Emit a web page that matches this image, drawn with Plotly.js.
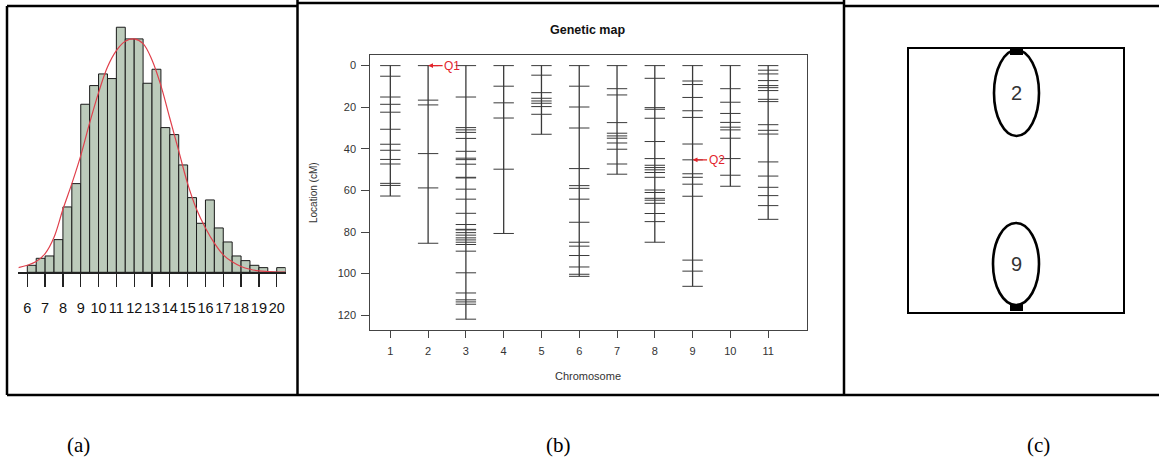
<!DOCTYPE html>
<html>
<head>
<meta charset="utf-8">
<script src="https://cdn.plot.ly/plotly-3.0.1.min.js"></script>
<style>html,body{margin:0;padding:0;background:#fff;}#chart{width:1159px;height:460px;}</style>
</head>
<body>
<div id="chart"></div>
<script>
// ---------- Panel (a): histogram ----------
const binLeft = [6.0,6.5,7.0,7.5,8.0,8.5,9.0,9.5,10.0,10.5,11.0,11.5,12.0,12.5,13.0,13.5,14.0,14.5,15.0,15.5,16.0,16.5,17.0,17.5,18.0,18.5,19.0,19.5,20.0];
const binCount = [3,6,7,14,28,38,72,80,85,83,105,100,100,81,87,62,59,46,32,21,31,19,13,7,5,3,2,0,2];
const histTicks = [6,7,8,9,10,11,12,13,14,15,16,17,18,19,20];
const curveX = [5.5,6.0,6.5,7.0,7.5,8.0,8.5,9.0,9.5,10.0,10.5,11.0,11.5,12.0,12.5,13.0,13.5,14.0,14.5,15.0,15.5,16.0,16.5,17.0,17.5,18.0,18.5,19.0,19.5,20.0,20.5];
const curveY = [2.0,3.0,4.6,8.0,15,27,38,50,64,77,88,95,99,100,98,91,80,66,52,38,27,19,12.5,7.5,4.5,2.5,1.3,0.6,0.3,0.1,0.05];

// ---------- Panel (b): genetic map ----------
const chromosomeLabels = [1,2,3,4,5,6,7,8,9,10,11];
const chr1 = [0,5.1,15.1,18.6,22.4,30.6,37.8,40.7,45.1,47.3,56.6,57.6,62.7];
const chr2 = [0,16.6,18.9,42.3,58.8,85.4];
const chr3 = [0,15.1,29.8,30.9,32.1,35.0,41.2,44.5,45.2,47.4,53.7,54.0,59.4,64.2,71.0,76.4,78.7,79.0,80.3,81.5,82.8,83.8,84.9,86.0,89.2,99.6,109.3,112.6,113.6,114.7,121.9];
const chr4 = [0,9.9,17.9,25.2,49.8,80.7];
const chr5 = [0,4.6,13.0,15.7,17.0,18.1,19.7,23.4,33.0];
const chr6 = [0,9.9,19.9,30.0,49.5,57.7,59.0,64.2,75.3,84.9,86.8,91.3,96.8,100.3,101.3];
const chr7 = [0,11.1,14.1,27.4,32.5,33.8,34.9,37.2,40.2,47.3,52.2];
const chr8 = [0,6.1,20.2,21.0,25.3,36.5,44.7,47.9,49.0,50.1,51.4,53.7,59.8,61.0,63.8,64.7,66.2,71.1,75.0,84.9];
const chr9 = [0,7.4,9.1,15.3,21.7,24.9,37.7,45.3,52.0,53.7,57.0,62.8,93.5,98.8,106.1];
const chr10 = [0,11.1,17.6,23.0,27.3,29.6,30.9,34.9,44.7,52.7,58.0];
const chr11 = [0,2.2,4.0,7.2,9.6,10.6,12.0,16.2,17.3,28.4,31.1,32.9,46.3,53.1,58.5,62.5,67.3,73.9];
const locationTicks = [0,20,40,60,80,100,120];
const qtlNames = ['Q1','Q2'];
const qtlChrom = [2,9];
const qtlPos = [0,45.3];

// ---------- Panel labels ----------
const panelLabels = ['(a)','(b)','(c)'];

const W = 1159, H = 460;
const px = v => v / W;
const py = v => 1 - v / H;

const chromosomes = [chr1,chr2,chr3,chr4,chr5,chr6,chr7,chr8,chr9,chr10,chr11];
const half = 0.27;
const vx = [], vy = [], hx = [], hy = [];
chromosomes.forEach((m, i) => {
  const c = chromosomeLabels[i];
  vx.push(c, c, null); vy.push(Math.min(...m), Math.max(...m), null);
  m.forEach(p => { hx.push(c - half, c + half, null); hy.push(p, p, null); });
});

const traces = [
  {type:'bar', x: binLeft, y: binCount, offset: 0, width: 0.5, xaxis:'x', yaxis:'y',
   marker:{color:'#bccbbb', line:{color:'#1a1a1a', width:1}}, hoverinfo:'skip'},
  {type:'scatter', mode:'lines', x: curveX, y: curveY, xaxis:'x', yaxis:'y',
   line:{color:'#e0404c', width:1.2, shape:'spline'}, hoverinfo:'skip'},
  {type:'scatter', mode:'lines', x: vx, y: vy, xaxis:'x2', yaxis:'y2',
   line:{color:'#3a3a3a', width:1.3}, hoverinfo:'skip'},
  {type:'scatter', mode:'lines', x: hx, y: hy, xaxis:'x2', yaxis:'y2',
   line:{color:'#3a3a3a', width:1}, hoverinfo:'skip'},
  {type:'scatter', mode:'markers', x:[0.5], y:[0.5], xaxis:'x3', yaxis:'y3',
   marker:{size:1, color:'rgba(0,0,0,0)'}, hoverinfo:'skip'}
];

const annotations = [];
qtlNames.forEach((q, i) => {
  annotations.push({xref:'x2', yref:'y2', x: qtlChrom[i], y: qtlPos[i], text: q,
    showarrow: true, ax: 24, ay: 0, arrowhead: 2, arrowsize: 0.7, arrowwidth: 1.4,
    arrowcolor: '#e3242b', standoff: 0,
    font:{family:'Liberation Sans, Arial, sans-serif', size:12, color:'#e3242b'}});
});
annotations.push(
  {xref:'paper', yref:'paper', x: px(587), y: py(30), text:'<b>Genetic map</b>', showarrow:false,
   xanchor:'center', yanchor:'middle', font:{family:'Liberation Sans, Arial, sans-serif', size:12.5, color:'#111'}},
  {xref:'paper', yref:'paper', x: px(313), y: py(193), text:'Location (cM)', showarrow:false, textangle:-90,
   xanchor:'center', yanchor:'middle', font:{family:'Liberation Sans, Arial, sans-serif', size:10, color:'#333'}},
  {xref:'paper', yref:'paper', x: px(588), y: py(376), text:'Chromosome', showarrow:false,
   xanchor:'center', yanchor:'middle', font:{family:'Liberation Sans, Arial, sans-serif', size:11, color:'#333'}}
);
// panel (c) ellipse labels from the QTL chromosomes
const ellipseCenters = [[1016.5, 92.5],[1016, 264]];
qtlChrom.forEach((c, i) => {
  annotations.push({xref:'paper', yref:'paper', x: px(ellipseCenters[i][0]), y: py(ellipseCenters[i][1]),
    text: String(c), showarrow:false, xanchor:'center', yanchor:'middle',
    font:{family:'Liberation Sans, sans-serif', size:20, color:'#333'}});
});
const labelX = [78, 558, 1038];
panelLabels.forEach((t, i) => {
  annotations.push({xref:'paper', yref:'paper', x: px(labelX[i]), y: py(445), text: t, showarrow:false,
    xanchor:'center', yanchor:'middle', font:{family:'Liberation Serif, Times New Roman, serif', size:21, color:'#000'}});
});

const line = (x0,y0,x1,y1,w) => ({type:'line', xref:'paper', yref:'paper', x0:px(x0), y0:py(y0), x1:px(x1), y1:py(y1), line:{color:'#000', width:w||2.5}});
const shapes = [
  line(7,6,297.5,6), line(297.5,3,844,3), line(844,6,1159,6),
  line(7,6,7,395), line(297.5,0,297.5,395), line(844,0,844,395), line(7,395,1159,395),
  // panel (c) ellipses
  {type:'circle', xref:'paper', yref:'paper', x0:px(994), x1:px(1039), y0:py(136), y1:py(50), line:{color:'#000', width:2.6}},
  {type:'circle', xref:'paper', yref:'paper', x0:px(993), x1:px(1039), y0:py(305), y1:py(223), line:{color:'#000', width:2.6}},
  {type:'rect', xref:'paper', yref:'paper', x0:px(1010), x1:px(1023), y0:py(55), y1:py(49), line:{width:0}, fillcolor:'#000'},
  {type:'rect', xref:'paper', yref:'paper', x0:px(1010), x1:px(1023), y0:py(311), y1:py(304), line:{width:0}, fillcolor:'#000'}
];

const tickFontB = {family:'Liberation Sans, Arial, sans-serif', size:11, color:'#333'};
const layout = {
  width: W, height: H, margin:{l:0,r:0,t:0,b:0}, showlegend:false,
  paper_bgcolor:'#fff', plot_bgcolor:'rgba(0,0,0,0)', bargap:0,
  xaxis:{domain:[px(18.4), px(285.6)], range:[5.5, 20.5], tickmode:'array', tickvals: histTicks,
    ticks:'outside', ticklen:13, tickwidth:1.3, tickcolor:'#222', showline:true, linecolor:'#222', linewidth:1.3,
    showgrid:false, zeroline:false, anchor:'y', ticklabelstandoff:9, tickangle:0,
    tickfont:{family:'Liberation Sans, Arial, sans-serif', size:14.5, color:'#111'}},
  yaxis:{domain:[py(272.3), py(20)], range:[0, 108.1], visible:false, anchor:'x'},
  xaxis2:{domain:[px(370.3), px(806.7)], range:[0.47, 12.02], tickmode:'array', tickvals: chromosomeLabels,
    ticks:'outside', ticklen:7, tickcolor:'#444', showline:true, mirror:true, linecolor:'#444', linewidth:1,
    showgrid:false, zeroline:false, anchor:'y2', tickfont: tickFontB, ticklabelstandoff:4},
  yaxis2:{domain:[py(330), py(55)], range:[127.1, -5.1], autorange:false, tickmode:'array', tickvals: locationTicks,
    ticks:'outside', ticklen:8, tickcolor:'#444', showline:true, mirror:true, linecolor:'#444', linewidth:1,
    showgrid:false, zeroline:false, anchor:'x2', tickfont: tickFontB, ticklabelstandoff:3},
  xaxis3:{domain:[px(909), px(1123)], range:[0,1], showticklabels:false, ticks:'', showgrid:false, zeroline:false,
    showline:true, mirror:true, linecolor:'#000', linewidth:2, anchor:'y3'},
  yaxis3:{domain:[py(312.3), py(49.3)], range:[0,1], showticklabels:false, ticks:'', showgrid:false, zeroline:false,
    showline:true, mirror:true, linecolor:'#000', linewidth:2, anchor:'x3'},
  annotations: annotations,
  shapes: shapes
};

Plotly.newPlot('chart', traces, layout, {staticPlot:true, displayModeBar:false});
</script>
</body>
</html>
